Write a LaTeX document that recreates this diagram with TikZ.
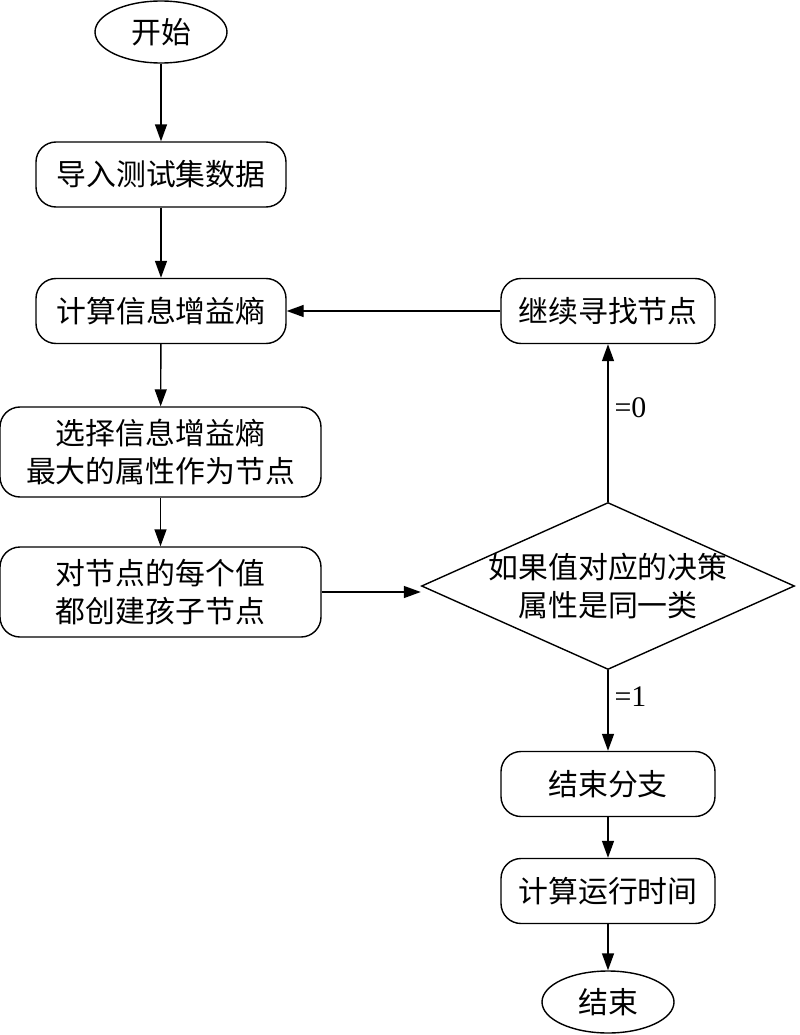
\documentclass[tikz,border=0pt]{standalone}
\usepackage{fontspec}
\setmainfont{Liberation Serif}
\newfontfamily\cjk{Noto Sans CJK SC}
\usetikzlibrary{arrows.meta, positioning, shapes.geometric, calc}

\begin{document}
\begin{tikzpicture}[
                                        ->,
                                        >={Triangle[length=0.34cm, width=0.24cm]},
                                        line width=0.8pt,
                                        every node/.style={draw, align=center, font=\cjk\fontsize{17}{21.6}\selectfont},
                                        proc/.style={rectangle, rounded corners=0.4cm, minimum height=1.3cm},
                                        term/.style={ellipse, minimum width=2.64cm, minimum height=1.24cm},
                                        lbl/.style={draw=none, font=\fontsize{17}{20}\selectfont},
                                ]
                                \useasboundingbox (0,0) rectangle (16,-20.7);
                                \node[term] (s) at (3.22,-0.64) {开始};
                                \node[proc, minimum width=5cm] (a) at (3.22,-3.49) {导入测试集数据};
                                \node[proc, minimum width=5cm] (b) at (3.22,-6.22) {计算信息增益熵};
                                \node[proc, minimum width=6.42cm, minimum height=1.8cm] (c) at (3.21,-9.04) {选择信息增益熵\\最大的属性作为节点};
                                \node[proc, minimum width=6.42cm, minimum height=1.8cm] (d) at (3.21,-11.84) {对节点的每个值\\都创建孩子节点};
                                \node[diamond, aspect=2.23, minimum width=7.46cm, minimum height=3.34cm, inner xsep=-0.4cm, inner ysep=0pt] (e) at (12.16,-11.72) {如果值对应的决策\\属性是同一类};
                                \node[proc, minimum width=4.28cm] (f) at (12.16,-6.22) {继续寻找节点};
                                \node[proc, minimum width=4.28cm] (g) at (12.16,-15.68) {结束分支};
                                \node[proc, minimum width=4.28cm] (h) at (12.16,-17.82) {计算运行时间};
                                \node[term] (t) at (12.16,-20.04) {结束};

                                \draw (s) -- (a);
                                \draw (a) -- (b);
                                \draw (b) -- (c);
                                \draw (c) -- (d);
                                \draw (d) -- (d -| e.west);
                                \draw (e.north) -- node[lbl, right, pos=0.6] {=0} (f);
                                \draw (f) -- (b);
                                \draw (e.south) -- node[lbl, right, pos=0.33] {=1} (g);
                                \draw (g) -- (h);
                                \draw (h) -- (t);
                        \end{tikzpicture}
\end{document}
